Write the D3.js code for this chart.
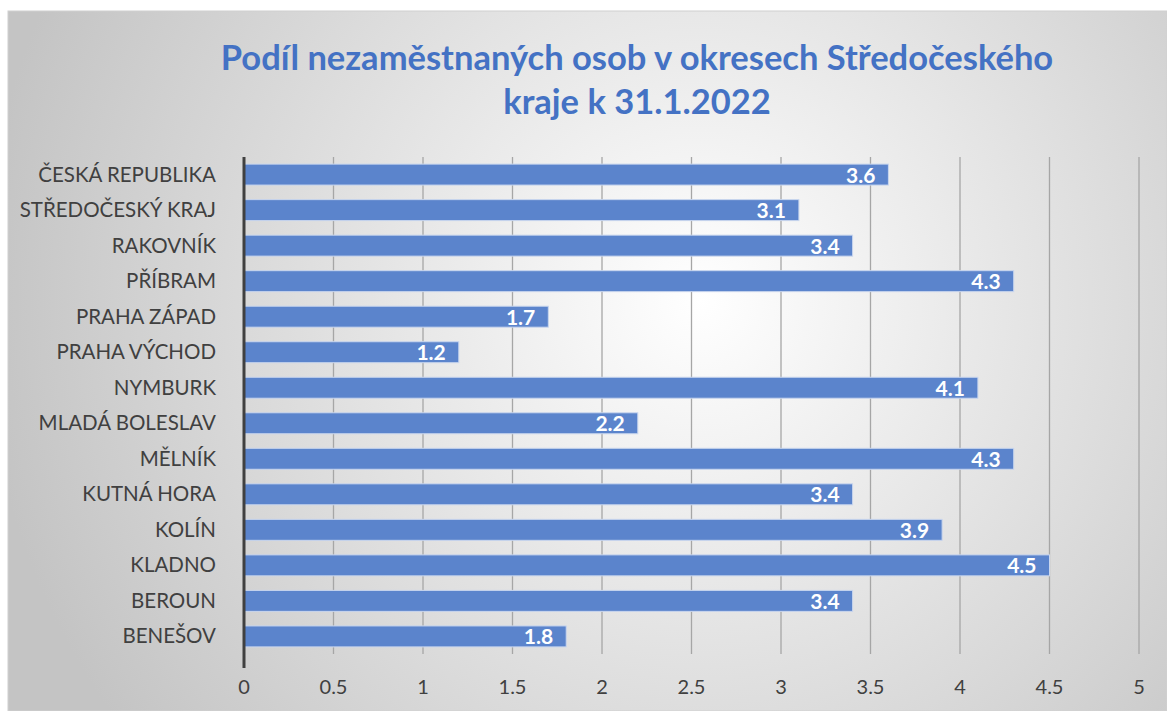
<!DOCTYPE html>
<html lang="cs">
<head>
  <meta charset="UTF-8">
  <title>Podíl nezaměstnaných osob</title>
  <script src="https://d3js.org/d3.v7.min.js"></script>
  <style>
    body {
      margin: 0;
      background: #ffffff;
      font-family: Lato, "Open Sans", sans-serif;
    }
    svg { display: block; }
    .grid line { stroke: #a6a6a6; stroke-width: 1.3px; }
    .cat text { fill: #404040; font-size: 20.5px; }
    .xaxis text { fill: #404040; font-size: 20px; }
    .val { fill: #ffffff; font-size: 21px; font-weight: bold; }
  </style>
</head>
<body>
<div id="chart"></div>
<script>
  const categories = ["ČESKÁ REPUBLIKA", "STŘEDOČESKÝ KRAJ", "RAKOVNÍK", "PŘÍBRAM", "PRAHA ZÁPAD",
    "PRAHA VÝCHOD", "NYMBURK", "MLADÁ BOLESLAV", "MĚLNÍK", "KUTNÁ HORA", "KOLÍN", "KLADNO",
    "BEROUN", "BENEŠOV"];
  const values = [3.6, 3.1, 3.4, 4.3, 1.7, 1.2, 4.1, 2.2, 4.3, 3.4, 3.9, 4.5, 3.4, 1.8];
  const tickValues = [0, 0.5, 1, 1.5, 2, 2.5, 3, 3.5, 4, 4.5, 5];
  const titleLines = ["Podíl nezaměstnaných osob v okresech Středočeského", "kraje k 31.1.2022"];

  const width = 1167, height = 711;
  const plot = { left: 244, right: 1139, top: 157, bottom: 654 };

  const svg = d3.select("#chart").append("svg")
    .attr("width", width)
    .attr("height", height);

  const defs = svg.append("defs");
  const grad = defs.append("radialGradient")
    .attr("id", "bg")
    .attr("gradientUnits", "userSpaceOnUse")
    .attr("cx", 700).attr("cy", 300).attr("r", 720);
  grad.append("stop").attr("offset", "0%").attr("stop-color", "#ffffff");
  grad.append("stop").attr("offset", "100%").attr("stop-color", "#c4c4c4");

  svg.append("rect")
    .attr("x", 8).attr("y", 11)
    .attr("width", width - 8).attr("height", height - 11)
    .attr("fill", "url(#bg)")
    .attr("stroke", "#d0d0d0");

  // title
  svg.append("g").selectAll("text")
    .data(titleLines)
    .enter().append("text")
    .attr("x", 637)
    .attr("y", (d, i) => 70 + i * 44)
    .attr("text-anchor", "middle")
    .attr("fill", "#4472c4")
    .style("font-size", "34.5px")
    .style("font-weight", "bold")
    .text(d => d);

  const x = d3.scaleLinear().domain([0, 5]).range([plot.left, plot.right]);
  const y = d3.scaleBand().domain(categories).range([plot.top, plot.bottom]).paddingInner(0.41).paddingOuter(0.2);

  // gridlines
  svg.append("g").attr("class", "grid")
    .selectAll("line")
    .data(tickValues.slice(1))
    .enter().append("line")
    .attr("x1", d => x(d)).attr("x2", d => x(d))
    .attr("y1", plot.top).attr("y2", plot.bottom);

  // x tick labels
  svg.append("g").attr("class", "xaxis")
    .selectAll("text")
    .data(tickValues)
    .enter().append("text")
    .attr("x", d => x(d))
    .attr("y", 694)
    .attr("text-anchor", "middle")
    .text(d => d);

  // bars
  svg.append("g")
    .selectAll("rect")
    .data(values)
    .enter().append("rect")
    .attr("x", x(0))
    .attr("y", (d, i) => y(categories[i]))
    .attr("width", d => x(d) - x(0))
    .attr("height", y.bandwidth())
    .attr("fill", "#5b84cc")
    .attr("stroke", "#c9d6ee")
    .attr("stroke-width", 1);

  // value labels
  svg.append("g")
    .selectAll("text")
    .data(values)
    .enter().append("text")
    .attr("class", "val")
    .attr("x", d => x(d) - 13)
    .attr("y", (d, i) => y(categories[i]) + y.bandwidth() / 2 + 8)
    .attr("text-anchor", "end")
    .text(d => d.toFixed(1));

  // category labels
  svg.append("g").attr("class", "cat")
    .selectAll("text")
    .data(categories)
    .enter().append("text")
    .attr("x", 216)
    .attr("y", d => y(d) + y.bandwidth() / 2 + 7)
    .attr("text-anchor", "end")
    .text(d => d);

  // vertical axis line
  svg.append("line")
    .attr("x1", x(0)).attr("x2", x(0))
    .attr("y1", plot.top).attr("y2", plot.bottom + 14)
    .attr("stroke", "#404040")
    .attr("stroke-width", 3);
</script>
</body>
</html>
